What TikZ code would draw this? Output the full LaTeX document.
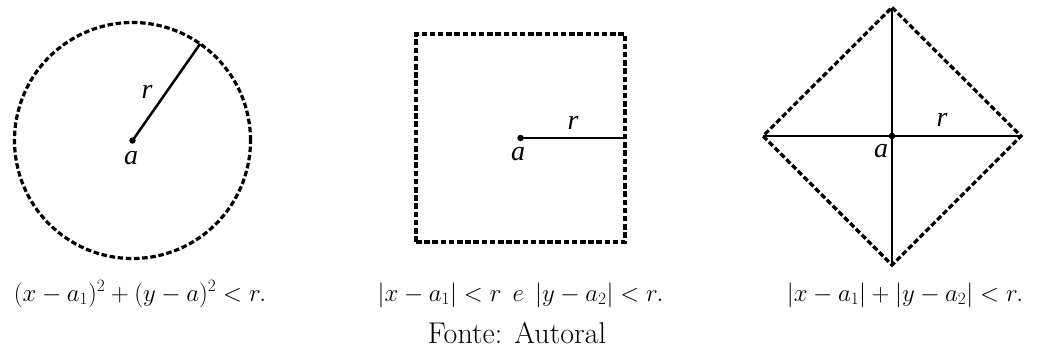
\documentclass[tikz,border=0pt]{standalone}
\usepackage{fontspec}
\newfontfamily\lblfont{Liberation Serif}[ItalicFont={* Italic}]
\begin{document}
\begin{tikzpicture}[x=1pt,y=-1pt,
  bnd/.style={line width=3.2pt, dash pattern=on 5.5pt off 2.7pt},
  rad/.style={line width=2.5pt},
  dotpt/.style={circle, fill, inner sep=0pt, minimum size=6.5pt},
  lbl/.style={font=\fontsize{28}{34}\selectfont\lblfont\itshape, inner sep=0pt},
  captxt/.style={font=\fontsize{25}{30}\selectfont, anchor=base, inner sep=0pt},
  fonttxt/.style={font=\fontsize{30}{36}\selectfont, anchor=base, inner sep=0pt}]
\useasboundingbox[fill=white] (0,0) rectangle (1040,349);
% circle
\coordinate (ca) at (132.5,140.5);
\node[draw, bnd, circle, minimum size=236pt, inner sep=0pt, outer sep=0pt] (C) at (ca) {};
\draw[rad] (ca) -- (C.55);
\node[dotpt] (A1) at (ca) {};
\node[lbl] (a1) at (131,158) {a};
\node[lbl] (r1) at (147,92) {r};
% square
\coordinate (sa) at (520.5,138);
\node[draw, bnd, rectangle, minimum width=209pt, minimum height=208pt, inner sep=0pt, outer sep=0pt] (S) at (sa) {};
\draw[rad] (sa) -- (S.east);
\node[dotpt] (A2) at (sa) {};
\node[lbl] (a2) at (518,154) {a};
\node[lbl] (r2) at (573,123) {r};
% diamond
\coordinate (DT) at (892,7.5);
\coordinate (DB) at (892,265);
\coordinate (DL) at (763,136);
\coordinate (DR) at (1021,136);
\coordinate (DC) at (892,136);
\draw[bnd] (DT) -- (DR) -- (DB) -- (DL) -- cycle;
\draw[rad] (DT) -- (DB);
\draw[rad] (DL) -- (DR);
\node[dotpt] (A3) at (DC) {};
\node[lbl] (a3) at (881,151) {a};
\node[lbl] (r3) at (942,120) {r};
% captions
\node[captxt] (c1) at (140,301) {$(x-a_1)^2+(y-a)^2<r.$};
\node[captxt] (c2) at (520.5,301) {$|x-a_1|<r\hspace{0.45em}e\hspace{0.45em}|y-a_2|<r.$};
\node[captxt] (c3) at (905,301) {$|x-a_1|+|y-a_2|<r.$};
\node[fonttxt] (f) at (517,343) {Fonte: Autoral};
\end{tikzpicture}
\end{document}
